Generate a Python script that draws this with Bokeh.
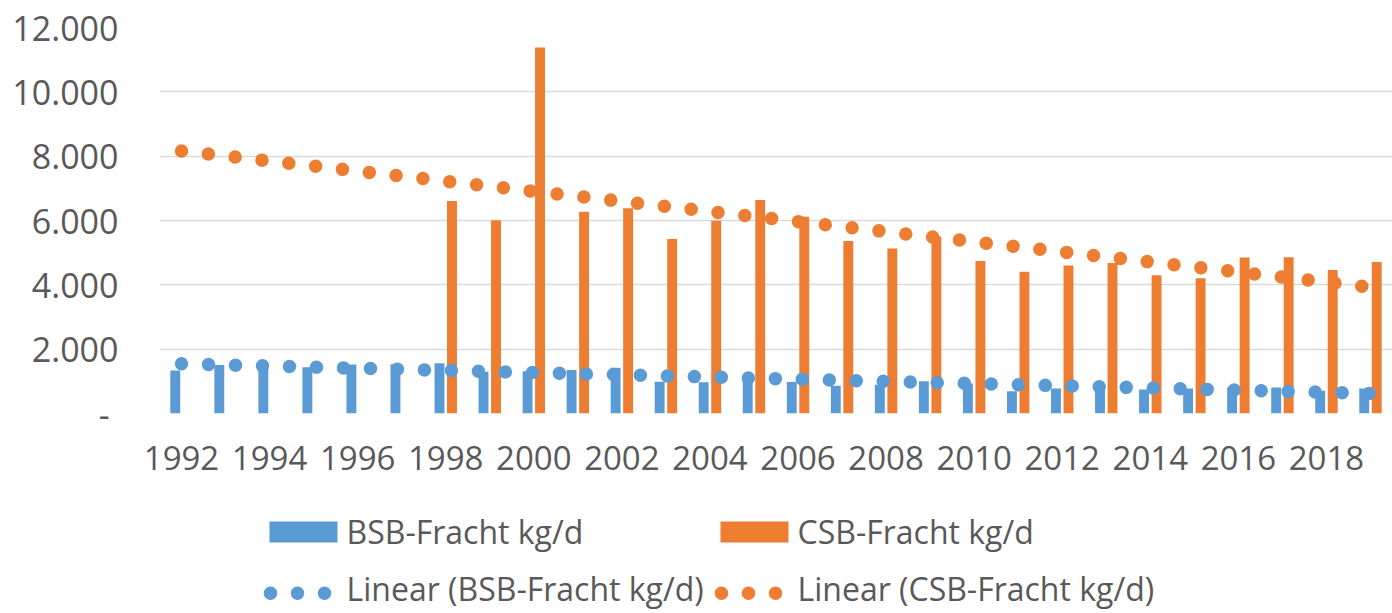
import numpy as np
from bokeh.plotting import figure
from bokeh.layouts import column
from bokeh.models import Range1d, FixedTicker, CustomJSTickFormatter, ColumnDataSource
from bokeh.core.properties import value
from bokeh.embed import file_html
from bokeh.resources import INLINE

years = list(range(1992, 2020))
bsb = [1340, 1510, 1500, 1440, 1520, 1530, 1560, 1300, 1310, 1350, 1420, 990, 970, 1050,
       980, 860, 890, 1000, 930, 690, 775, 790, 745, 780, 810, 810, 710, 775]
csb = [None, None, None, None, None, None, 6605, 6005, 11380, 6273, 6377, 5426, 5995, 6636,
       6120, 5364, 5126, 5500, 4744, 4403, 4599, 4682, 4300, 4207, 4847, 4860, 4465, 4713]
x_ticks = list(range(1992, 2019, 2))
y_ticks = [0, 2000, 4000, 6000, 8000, 10000, 12000]
names = ["BSB-Fracht kg/d", "CSB-Fracht kg/d"]

BLUE = "#5B9BD5"
ORANGE = "#ED7D31"
GREY = "#595959"
FONT = "Open Sans"
DOT_W = 13.5
DOT_DASH = "0 27"
LEFT = 159

def trend(vals):
    xs = np.array([y for y, v in zip(years, vals) if v is not None], dtype=float)
    ys = np.array([v for v in vals if v is not None], dtype=float)
    k, d = np.polyfit(xs, ys, 1)
    return [k * y + d for y in years]

# ---------------- main chart ----------------
p = figure(frame_width=1392 - LEFT, frame_height=386, output_backend="svg", toolbar_location=None,
           x_range=Range1d(1991.5, 2019.5), y_range=Range1d(0, 12000),
           min_border_left=LEFT, min_border_right=0, min_border_top=27, min_border_bottom=87)
p.outline_line_color = None
p.xgrid.grid_line_color = None
p.ygrid.grid_line_color = "#D9D9D9"
p.ygrid.grid_line_width = 1.5
p.ygrid.ticker = FixedTicker(ticks=y_ticks)

off = 0.142
bw = 0.225
src_b = ColumnDataSource(dict(x=[y - off for y in years], top=bsb))
csb_years = [y + off for y, v in zip(years, csb) if v is not None]
csb_vals = [v for v in csb if v is not None]
src_c = ColumnDataSource(dict(x=csb_years, top=csb_vals))
p.vbar(x="x", top="top", width=bw, source=src_b, fill_color=BLUE, line_color=None)
p.vbar(x="x", top="top", width=bw, source=src_c, fill_color=ORANGE, line_color=None)

p.line(years, trend(bsb), line_color=BLUE, line_width=DOT_W, line_dash=DOT_DASH, line_cap="round")
p.line(years, trend(csb), line_color=ORANGE, line_width=DOT_W, line_dash=DOT_DASH, line_cap="round")

xa = p.xaxis[0]
xa.ticker = FixedTicker(ticks=x_ticks)
xa.formatter = CustomJSTickFormatter(code="return String(tick)")
xa.axis_line_color = None
xa.major_tick_line_color = None
xa.minor_tick_line_color = None
xa.major_label_text_font = FONT
xa.major_label_text_font_size = "33px"
xa.major_label_text_color = GREY
xa.major_label_standoff = 26

ya = p.yaxis[0]
ya.ticker = FixedTicker(ticks=y_ticks)
ya.formatter = CustomJSTickFormatter(
    code="if (tick == 0) { return '-\u00a0'; } return String(Math.round(tick)).replace(/\\B(?=(\\d{3})+(?!\\d))/g, '.');")
ya.axis_line_color = None
ya.major_tick_line_color = None
ya.minor_tick_line_color = None
ya.major_label_text_font = FONT
ya.major_label_text_font_size = "34px"
ya.major_label_text_color = GREY
ya.major_label_standoff = 35

# ---------------- legend (drawn in a strip below, page-pixel coordinates) ----------------
LH = 113
leg = figure(width=1392, height=LH, output_backend="svg", toolbar_location=None,
             x_range=Range1d(LEFT, 1392), y_range=Range1d(LH, 0),
             x_axis_type=None, y_axis_type=None,
             min_border_left=LEFT, min_border_right=0, min_border_top=0, min_border_bottom=0)
leg.outline_line_color = None
leg.xgrid.grid_line_color = None
leg.ygrid.grid_line_color = None

sw_x = [269, 720]          # swatch left edges of the two legend columns
txt_x = [346, 797]
row1_mid, row1_text = 31.5, 31.0
row2_mid, row2_text = 92.7, 88.0
for i, c in enumerate([BLUE, ORANGE]):
    leg.rect(x=[sw_x[i] + 34], y=[row1_mid], width=[68], height=[21], fill_color=c, line_color=None)
    leg.text(x=[txt_x[i]], y=[row1_text], text=[names[i]], text_font=value(FONT),
             text_font_size="32px", text_color=GREY, text_baseline="middle", text_align="left")
    leg.line(x=[sw_x[i] + 1, sw_x[i] + 60], y=[row2_mid, row2_mid], line_color=c, line_width=DOT_W,
             line_dash=DOT_DASH, line_cap="round")
    leg.text(x=[txt_x[i]], y=[row2_text], text=["Linear (" + names[i] + ")"], text_font=value(FONT),
             text_font_size="32px", text_color=GREY, text_baseline="middle", text_align="left")

layout = column(p, leg, spacing=0)
open("out.html", "w").write(file_html(layout, INLINE))
